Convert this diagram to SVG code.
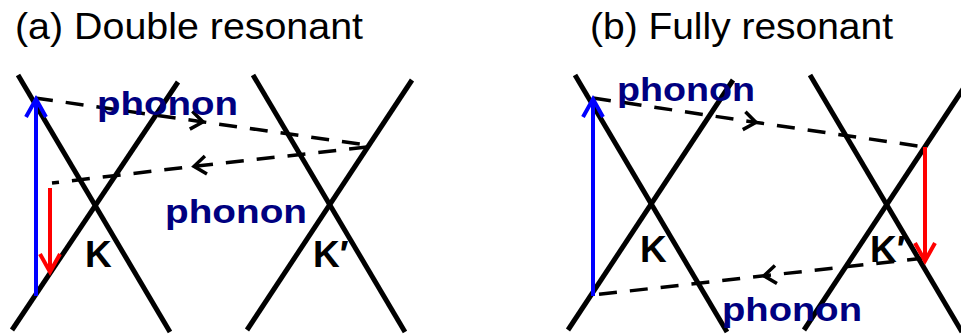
<svg xmlns="http://www.w3.org/2000/svg" width="961" height="334" viewBox="0 0 961 334">
<style>
.band{stroke:#000;stroke-width:5;fill:none;stroke-linecap:butt}
.dash{stroke:#000;stroke-width:3.5;fill:none;stroke-dasharray:18 13}
.title{font-family:"Liberation Sans",Arial,sans-serif;font-size:36px;fill:#000}
.ph{font-family:"Liberation Sans",Arial,sans-serif;font-size:34px;font-weight:bold;fill:#000080}
.k{font-family:"Liberation Sans",Arial,sans-serif;font-size:37px;font-weight:bold;fill:#000}
.blue{stroke:#0000FF;stroke-width:4;fill:none}
.red{stroke:#FF0000;stroke-width:4;fill:none}
</style>
<defs>
<marker id="chev" markerUnits="userSpaceOnUse" orient="auto" markerWidth="30" markerHeight="30" viewBox="-15 -15 30 30" refX="0" refY="0" overflow="visible">
<path d="M -9 -9 L 3 0 L -9 9" fill="none" stroke="#000" stroke-width="3.5"/>
</marker>
<marker id="ab" markerUnits="userSpaceOnUse" orient="auto" markerWidth="30" markerHeight="30" viewBox="-20 -15 30 30" refX="0" refY="0" overflow="visible">
<path d="M -18 -10 L 0 0 L -18 10" fill="none" stroke="#0000FF" stroke-width="4"/>
</marker>
<marker id="ar" markerUnits="userSpaceOnUse" orient="auto" markerWidth="30" markerHeight="30" viewBox="-20 -15 30 30" refX="0" refY="0" overflow="visible">
<path d="M -18 -10 L 0 0 L -18 10" fill="none" stroke="#FF0000" stroke-width="4"/>
</marker>
</defs>
<rect width="961" height="334" fill="#fff"/>
<text class="title" x="15" y="39" textLength="348" lengthAdjust="spacingAndGlyphs">(a) Double resonant</text>
<text class="title" x="590" y="39" textLength="303" lengthAdjust="spacingAndGlyphs">(b) Fully resonant</text>
<g id="bandsA">
<line class="band" x1="18" y1="75" x2="170" y2="332"/>
<line class="band" x1="12" y1="330" x2="178" y2="82"/>
<line class="band" x1="253" y1="75" x2="405" y2="332"/>
<line class="band" x1="247" y1="330" x2="412" y2="80"/>
</g>
<g id="bandsB">
<line class="band" x1="575" y1="75" x2="727" y2="332"/>
<line class="band" x1="568" y1="330" x2="733" y2="80"/>
<line class="band" x1="810" y1="75" x2="962" y2="332"/>
<line class="band" x1="804" y1="330" x2="969" y2="80"/>
</g>
<g id="connectors">
<path class="dash" d="M 35 98 L 200 121.5 L 367 145" marker-mid="url(#chev)"/>
<path class="dash" d="M 367 147 L 197 166 L 52 183" marker-mid="url(#chev)"/>
<path class="dash" d="M 593 98 L 753 122 L 925 147" marker-mid="url(#chev)"/>
<path class="dash" d="M 925 258 L 767 275.5 L 593 295" marker-mid="url(#chev)"/>
<line class="blue" x1="36" y1="296" x2="36" y2="99" marker-end="url(#ab)"/>
<line class="red" x1="50" y1="188" x2="50" y2="272" marker-end="url(#ar)"/>
<line class="blue" x1="593" y1="296" x2="593" y2="99" marker-end="url(#ab)"/>
<line class="red" x1="925" y1="147" x2="925" y2="261" marker-end="url(#ar)"/>
</g>
<g id="labels">
<text class="ph" x="97" y="115" textLength="141" lengthAdjust="spacingAndGlyphs">phonon</text>
<text class="ph" x="165" y="223" textLength="142" lengthAdjust="spacingAndGlyphs">phonon</text>
<text class="ph" x="617" y="101" textLength="138" lengthAdjust="spacingAndGlyphs">phonon</text>
<text class="ph" x="722" y="321" textLength="140" lengthAdjust="spacingAndGlyphs">phonon</text>
<text class="k" x="85" y="267">K</text>
<text class="k" x="313" y="267">K′</text>
<text class="k" x="640" y="262">K</text>
<text class="k" x="870" y="262">K′</text>
</g>
</svg>
